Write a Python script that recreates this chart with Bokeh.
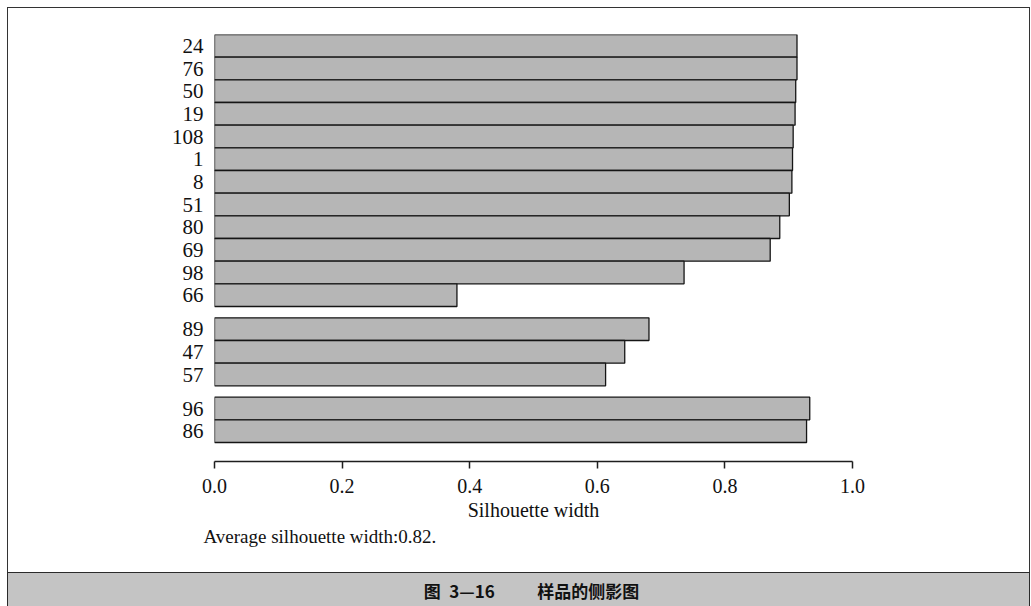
from bokeh.plotting import figure
from bokeh.layouts import column
from bokeh.models import Range1d, FixedTicker, PrintfTickFormatter, Title, ColumnDataSource
from bokeh.core.properties import value
from bokeh.embed import file_html
from bokeh.resources import INLINE

# ---- data ----
cluster1_ids = ["24", "76", "50", "19", "108", "1", "8", "51", "80", "69", "98", "66"]
cluster1_vals = [0.913, 0.913, 0.911, 0.910, 0.907, 0.906, 0.905, 0.901, 0.886, 0.871, 0.736, 0.38]
cluster2_ids = ["89", "47", "57"]
cluster2_vals = [0.681, 0.643, 0.613]
cluster3_ids = ["96", "86"]
cluster3_vals = [0.933, 0.928]
x_ticks = [0.0, 0.2, 0.4, 0.6, 0.8, 1.0]
avg_text = "Average silhouette width:0.82."
x_title = "Silhouette width"
caption = "图\u20023\u201416\u3000\u3000\u2002样品的侧影图"

clusters = [(cluster1_ids, cluster1_vals), (cluster2_ids, cluster2_vals), (cluster3_ids, cluster3_vals)]

# positions in half-row units, one half-row gap between clusters
ids, vals, ys = [], [], []
pos = 0
for ci, (cid, cv) in enumerate(clusters):
    if ci > 0:
        pos += 1
    for name, v in zip(cid, cv):
        ids.append(name)
        vals.append(v)
        ys.append(pos + 1)
        pos += 2
total = pos

# layout (page pixels)
OX, OY = 8, 8            # outer frame corner
RIGHT = 1029
BAND_TOP = 573
PAGE_H = 606
W = RIGHT - OX
H_MAIN = BAND_TOP - OY
H_CAP = PAGE_H - BAND_TOP
top_px, bottom_px, bars_bottom_px = 34, 461, 442
x0_px, x1_px = 214, 852
unit = (bars_bottom_px - top_px) / total
y_bottom = (bottom_px - top_px) / unit

src = ColumnDataSource(dict(y=ys, right=vals, left=[0] * len(vals), name=ids))

p = figure(width=W, height=H_MAIN, output_backend="svg", toolbar_location=None,
           x_range=Range1d(0, 1), y_range=Range1d(y_bottom, 0),
           min_border_left=x0_px - OX, min_border_right=RIGHT - x1_px,
           min_border_top=top_px - OY, min_border_bottom=BAND_TOP - bottom_px)
p.outline_line_color = None
p.grid.visible = False
p.background_fill_color = "white"
p.border_fill_color = "white"

p.hbar(y="y", left="left", right="right", height=2, source=src,
       fill_color="#b6b6b6", line_color="#151515", line_width=1.3)

serif = "Liberation Serif"

xa = p.xaxis[0]
xa.ticker = FixedTicker(ticks=x_ticks)
xa.formatter = PrintfTickFormatter(format="%.1f")
xa.bounds = (0, 1)
xa.axis_line_color = "#1e1e1e"
xa.axis_line_width = 1.5
xa.major_tick_line_color = "#1e1e1e"
xa.major_tick_line_width = 1.5
xa.major_tick_out = 7
xa.major_tick_in = 0
xa.minor_tick_line_color = None
xa.major_label_text_font = serif
xa.major_label_text_font_size = "20px"
xa.major_label_text_color = "#111111"
xa.major_label_standoff = 10
xa.axis_label = x_title
xa.axis_label_text_font = serif
xa.axis_label_text_font_style = "normal"
xa.axis_label_text_font_size = "20px"
xa.axis_label_text_color = "#111111"
xa.axis_label_standoff = 3

ya = p.yaxis[0]
ya.ticker = FixedTicker(ticks=ys)
ya.major_label_overrides = {y: n for y, n in zip(ys, ids)}
ya.axis_line_color = None
ya.major_tick_line_color = None
ya.minor_tick_line_color = None
ya.major_tick_out = 0
ya.major_tick_in = 0
ya.major_label_standoff = 11
ya.major_label_text_font = serif
ya.major_label_text_font_size = "21px"
ya.major_label_text_color = "#111111"

t = Title(text=avg_text, align="left", offset=-11, text_font=serif,
          text_font_size="19px", text_font_style="normal", text_color="#111111", standoff=0)
p.add_layout(t, "below")

# caption band (its frame is aligned with the main frame by the column layout)
band = "#c4c4c4"
cap = figure(width=W, height=H_CAP, output_backend="svg", toolbar_location=None,
             x_range=Range1d(x0_px, x1_px), y_range=Range1d(0, 1),
             x_axis_location=None, y_axis_location=None,
             min_border_left=x0_px - OX, min_border_right=RIGHT - x1_px,
             min_border_top=0, min_border_bottom=0,
             styles={"outline": "1.5px solid #2a2a2a", "background-color": band})
cap.grid.visible = False
cap.background_fill_color = None
cap.border_fill_color = band
cap.outline_line_color = None
cap.text(x=[531], y=[0.5], text=[caption], text_align="center", text_baseline="middle",
         text_font=value("Noto Sans CJK SC"), text_font_style="bold",
         text_font_size="17px", text_color="#111111")

layout = column(p, cap, spacing=0, margin=(OY, 0, 0, OX),
                styles={"outline": "1.5px solid #333333"})

open("out.html", "w").write(file_html(layout, INLINE))
